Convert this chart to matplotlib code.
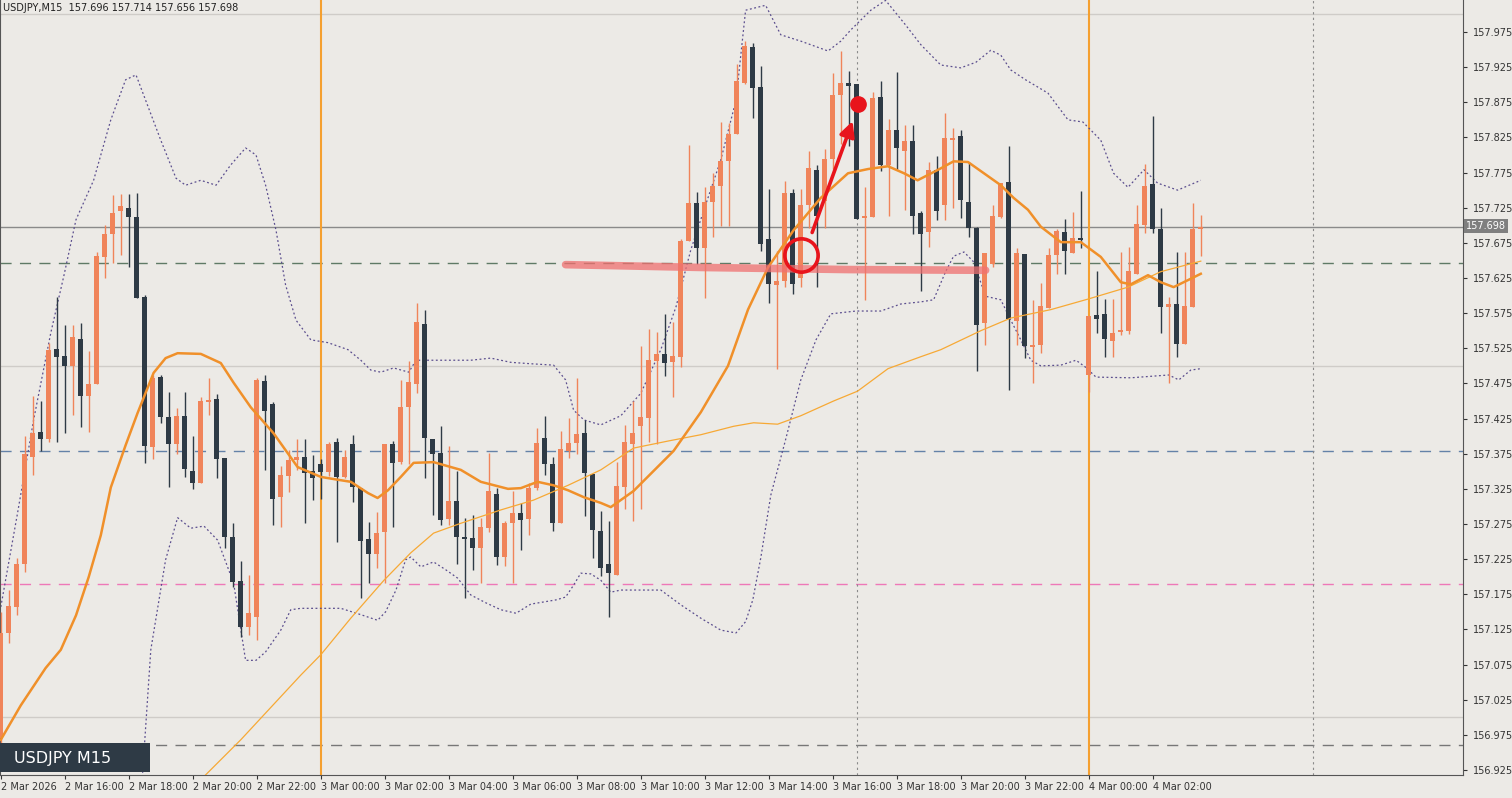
import matplotlib
matplotlib.use("Agg")
import matplotlib.pyplot as plt
from matplotlib.patches import Rectangle
import numpy as np

# ---------------- data ----------------
opens = [156.970,157.120,157.157,157.218,157.370,157.406,157.396,157.524,157.514,157.500,
 157.538,157.457,157.474,157.655,157.688,157.720,157.725,157.712,157.598,157.385,
 157.484,157.427,157.389,157.428,157.351,157.334,157.450,157.453,157.369,157.257,
 157.194,157.129,157.143,157.478,157.446,157.313,157.343,157.366,157.370,157.350,
 157.361,157.349,157.392,157.342,157.389,157.326,157.254,157.232,157.264,157.389,
 157.363,157.441,157.474,157.560,157.396,157.376,157.282,157.308,157.257,157.255,
 157.241,157.270,157.318,157.228,157.276,157.291,157.282,157.326,157.397,157.360,
 157.277,157.379,157.390,157.405,157.346,157.265,157.218,157.202,157.328,157.389,
 157.414,157.426,157.507,157.517,157.505,157.513,157.678,157.732,157.667,157.733,
 157.756,157.791,157.830,157.902,157.954,157.897,157.680,157.615,157.621,157.746,
 157.625,157.729,157.779,157.735,157.795,157.885,157.902,157.901,157.711,157.712,
 157.882,157.786,157.836,157.806,157.820,157.717,157.690,157.779,157.729,157.823,
 157.827,157.733,157.696,157.561,157.645,157.712,157.762,157.564,157.659,157.527,
 157.530,157.583,157.658,157.690,157.661,157.682,157.487,157.573,157.574,157.535,
 157.549,157.550,157.631,157.700,157.759,157.695,157.584,157.588,157.531,157.584,157.696]
highs = [157.150,157.181,157.227,157.400,157.457,157.450,157.532,157.598,157.558,157.558,
 157.561,157.521,157.662,157.700,157.743,157.745,157.745,157.746,157.601,157.487,
 157.487,157.463,157.440,157.463,157.400,157.456,157.483,157.460,157.369,157.276,
 157.222,157.202,157.483,157.487,157.449,157.358,157.380,157.396,157.396,157.373,
 157.367,157.391,157.398,157.380,157.402,157.326,157.278,157.292,157.389,157.393,
 157.480,157.507,157.589,157.579,157.396,157.414,157.386,157.350,157.284,157.288,
 157.284,157.376,157.326,157.279,157.322,157.305,157.334,157.411,157.428,157.370,
 157.408,157.426,157.483,157.423,157.346,157.294,157.279,157.363,157.416,157.450,
 157.528,157.552,157.548,157.574,157.562,157.680,157.814,157.747,157.754,157.774,
 157.847,157.845,157.929,157.962,157.959,157.927,157.752,157.664,157.763,157.752,
 157.752,157.806,157.786,157.808,157.917,157.948,157.919,157.901,157.754,157.889,
 157.905,157.851,157.918,157.843,157.843,157.721,157.790,157.799,157.860,157.838,
 157.836,157.790,157.698,157.661,157.729,157.760,157.813,157.668,157.659,157.594,
 157.618,157.668,157.695,157.709,157.719,157.749,157.571,157.635,157.595,157.595,
 157.662,157.669,157.729,157.787,157.855,157.725,157.598,157.662,157.662,157.732,157.714]
lows = [156.950,157.106,157.146,157.207,157.345,157.379,157.391,157.391,157.405,157.430,
 157.413,157.406,157.474,157.625,157.646,157.658,157.641,157.597,157.362,157.367,
 157.419,157.327,157.374,157.342,157.325,157.334,157.430,157.341,157.241,157.185,
 157.114,157.117,157.110,157.352,157.274,157.271,157.321,157.352,157.276,157.309,
 157.311,157.343,157.250,157.340,157.306,157.170,157.191,157.212,157.191,157.271,
 157.360,157.360,157.461,157.340,157.288,157.274,157.274,157.218,157.170,157.209,
 157.191,157.264,157.217,157.215,157.191,157.238,157.260,157.324,157.345,157.265,
 157.277,157.369,157.374,157.287,157.227,157.201,157.143,157.202,157.297,157.279,
 157.296,157.391,157.389,157.485,157.456,157.498,157.678,157.645,157.597,157.683,
 157.699,157.699,157.830,157.901,157.852,157.664,157.589,157.496,157.612,157.602,
 157.612,157.696,157.612,157.696,157.780,157.816,157.813,157.709,157.594,157.712,
 157.777,157.713,157.780,157.722,157.688,157.606,157.669,157.708,157.708,157.725,
 157.710,157.683,157.493,157.530,157.640,157.710,157.466,157.530,157.511,157.476,
 157.518,157.583,157.631,157.631,157.661,157.668,157.463,157.547,157.513,157.513,
 157.544,157.545,157.631,157.689,157.689,157.547,157.476,157.513,157.531,157.584,157.656]
closes = [157.120,157.158,157.218,157.374,157.404,157.396,157.522,157.512,157.500,157.541,
 157.457,157.474,157.656,157.688,157.718,157.727,157.712,157.597,157.386,157.483,
 157.427,157.389,157.428,157.353,157.334,157.450,157.452,157.367,157.256,157.192,
 157.129,157.149,157.480,157.436,157.310,157.344,157.366,157.370,157.348,157.340,
 157.349,157.389,157.342,157.370,157.328,157.251,157.232,157.262,157.389,157.362,
 157.441,157.477,157.562,157.397,157.375,157.280,157.308,157.257,157.254,157.241,
 157.271,157.322,157.228,157.276,157.291,157.281,157.326,157.390,157.360,157.277,
 157.382,157.390,157.403,157.348,157.266,157.212,157.205,157.329,157.391,157.404,
 157.427,157.508,157.517,157.504,157.514,157.678,157.732,157.667,157.733,157.756,
 157.791,157.830,157.905,157.955,157.895,157.673,157.616,157.621,157.746,157.617,
 157.729,157.781,157.713,157.795,157.885,157.902,157.898,157.709,157.713,157.881,
 157.786,157.836,157.810,157.820,157.713,157.688,157.779,157.720,157.824,157.825,
 157.736,157.696,157.558,157.661,157.713,157.760,157.567,157.661,157.528,157.530,
 157.585,157.658,157.692,157.663,157.682,157.679,157.571,157.566,157.538,157.547,
 157.550,157.635,157.702,157.756,157.695,157.584,157.588,157.531,157.585,157.695,157.698]

# indicator readings (bar index, price)
ma_fast_idx = [0,2.5,5.6,7.5,9.4,11,12.5,13.75,15.6,17.1,19.1,20.6,22.1,25,27.5,29.1,31.25,34.1,37.1,40,42.1,43.75,
 45.9,47.1,48.4,50,51.6,54.1,57.5,60,63.4,65,67.1,69.1,70.9,72.9,75,76.25,79.1,84.1,87.5,90.9,93.4,95.9,
 99.1,102.5,105.9,108.4,110.9,112.9,114.6,117.5,119.1,120.9,125,126.6,128.4,130,132.5,135,137.5,140,
 141.25,143.4,145,146.6,148.4,150]
ma_fast_val = [156.968,157.017,157.070,157.096,157.145,157.200,157.259,157.327,157.387,157.433,157.490,157.511,
 157.518,157.517,157.504,157.476,157.441,157.404,157.356,157.342,157.338,157.335,157.319,157.312,157.323,
 157.342,157.362,157.363,157.352,157.335,157.325,157.326,157.335,157.330,157.323,157.313,157.305,157.299,
 157.322,157.379,157.434,157.500,157.580,157.640,157.693,157.739,157.774,157.780,157.784,157.774,157.764,
 157.781,157.791,157.790,157.757,157.739,157.722,157.698,157.676,157.676,157.655,157.619,157.616,157.629,
 157.619,157.612,157.622,157.631]
ma_slow_idx = [25.6,30,37.5,40,43.75,47.9,51.25,54.1,57.5,62.5,66.6,70.9,75,79.1,83.4,87.5,91.6,94.1,97.1,100,
 104.1,107.1,110.9,115,117.5,122.5,126.25,131.25,135.9,140.9,145,150]
ma_slow_val = [156.918,156.968,157.060,157.089,157.141,157.195,157.234,157.262,157.276,157.295,157.309,157.330,
 157.352,157.383,157.393,157.402,157.414,157.419,157.417,157.429,157.450,157.464,157.496,157.513,157.523,
 157.550,157.568,157.580,157.595,157.612,157.634,157.649]
bb_up_idx = [0,2.1,4.1,6.25,7.9,9.4,11.6,13.75,15.6,16.9,18.1,20,21.9,23.1,25,26.9,28.75,30.6,31.9,33.1,34.4,
 35.6,36.9,38.75,40.9,43.4,45,46.25,47.5,49.1,51,51.9,53.1,56.25,58.75,61.25,63.75,66.25,69.1,70.6,71.6,
 72.9,75,77.5,80,82.5,84.4,86.25,88.1,90,91.9,93.1,95.6,97.5,100,103.4,105,106.25,108.75,110.6,113.1,115,
 117.5,120,121.9,123.75,125,126.25,128.1,130.9,133.4,135.25,137.5,139.1,140.9,142.9,144.6,147.1,150]
bb_up_val = [157.157,157.291,157.423,157.547,157.629,157.708,157.764,157.850,157.907,157.914,157.878,157.821,
 157.767,157.757,157.764,157.757,157.786,157.810,157.800,157.757,157.693,157.615,157.565,157.537,157.533,
 157.523,157.508,157.494,157.491,157.497,157.491,157.508,157.508,157.508,157.508,157.511,157.505,157.503,
 157.501,157.480,157.437,157.423,157.416,157.429,157.461,157.523,157.584,157.665,157.729,157.793,157.878,
 158.006,158.013,157.971,157.962,157.948,157.962,157.978,158.006,158.020,157.985,157.957,157.928,157.924,
 157.932,157.949,157.942,157.921,157.907,157.888,157.850,157.847,157.821,157.774,157.754,157.779,157.760,
 157.750,157.764]
bb_lo_idx = [17.5,18.75,20.6,22.1,23.75,25.4,27.1,29.1,30.6,31.9,33.1,35,36.25,37.5,42.5,45,47.1,48.1,49.4,50.6,
 51.25,52.5,54.1,55.6,57.1,58.75,60.6,62.5,64.4,66.25,69.4,70.6,71.6,72.5,73.75,75,76.25,77.5,80,82.5,85,
 87.5,90,91.9,93.1,94,95,96.25,98.1,100,101.9,103.75,106.9,110,112.5,115,116.6,118.1,119.1,120.4,121.6,
 123.1,125,126.25,127.5,128.75,130,132.5,134.4,135.6,136.9,141.25,146,147.25,148.75,150]
bb_lo_val = [156.882,157.096,157.224,157.284,157.269,157.272,157.252,157.191,157.081,157.081,157.093,157.124,
 157.153,157.155,157.155,157.146,157.138,157.150,157.181,157.224,157.228,157.214,157.221,157.210,157.198,
 157.174,157.163,157.153,157.148,157.161,157.167,157.171,157.188,157.205,157.204,157.195,157.178,157.181,
 157.181,157.181,157.160,157.141,157.124,157.120,157.136,157.167,157.227,157.316,157.395,157.480,157.537,
 157.574,157.578,157.578,157.588,157.591,157.594,157.634,157.656,157.662,157.648,157.599,157.594,157.565,
 157.537,157.508,157.500,157.501,157.508,157.498,157.484,157.483,157.487,157.480,157.494,157.496]

red_zone_idx = [70.6, 87.5, 106, 123.1]
red_zone_val = [157.644, 157.640, 157.637, 157.636]

xtick_idx = list(range(0, 152, 8))
xtick_lbl = ["2 Mar 2026", "2 Mar 16:00", "2 Mar 18:00", "2 Mar 20:00", "2 Mar 22:00", "3 Mar 00:00",
             "3 Mar 02:00", "3 Mar 04:00", "3 Mar 06:00", "3 Mar 08:00", "3 Mar 10:00", "3 Mar 12:00",
             "3 Mar 14:00", "3 Mar 16:00", "3 Mar 18:00", "3 Mar 20:00", "3 Mar 22:00", "4 Mar 00:00",
             "4 Mar 02:00"]
ytick_vals = [157.975 - 0.05 * k for k in range(22)]

# ---------------- figure ----------------
BG = "#ECEAE6"
BULL = "#F0845A"
BEAR = "#2E3A45"
W, H = 1512, 798
fig = plt.figure(figsize=(W / 100, H / 100), dpi=100, facecolor=BG)
ax = fig.add_axes([0, 23 / H, 1463 / W, 775 / H])
ax.set_facecolor(BG)
ax.set_xlim(-0.1, 1463 / 8 - 0.1)
ax.set_ylim(157.975 - 743 * 0.0014228, 157.975 + 32 * 0.0014228)

# horizontal level lines
for lv in [158.000, 157.500, 157.000]:
    ax.axhline(lv, color="#CFCCC8", lw=1, zorder=1)
ax.axhline(157.698, color="#8A8A8A", lw=1, zorder=1)
ax.axhline(157.646, color="#5F7A66", lw=1, ls=(0, (8, 6)), zorder=1)
ax.axhline(157.379, color="#6482A8", lw=1, ls=(0, (8, 6)), zorder=1)
ax.axhline(157.190, color="#EE78B8", lw=1, ls=(0, (8, 6)), zorder=1)
ax.axhline(156.961, color="#777777", lw=1, ls=(0, (8, 6)), zorder=1)
for vi in [40, 136]:
    ax.axvline(vi, color="#F5A030", lw=1.5, zorder=1)
for vi in [107, 164]:
    ax.axvline(vi, color="#8A8A8A", lw=0.8, ls=(0, (2, 3)), zorder=1)

# bands and MAs
ax.plot(bb_up_idx, bb_up_val, color="#5B4E8E", lw=0.9, ls=(0, (1.5, 2)), zorder=2)
ax.plot(bb_lo_idx, bb_lo_val, color="#5B4E8E", lw=0.9, ls=(0, (1.5, 2)), zorder=2)
ax.plot(ma_slow_idx, ma_slow_val, color="#F7A935", lw=0.9, zorder=4)
ax.plot(ma_fast_idx, ma_fast_val, color="#F0902A", lw=1.8, zorder=4)

# candles
for i in range(len(opens)):
    o, h, l, c = opens[i], highs[i], lows[i], closes[i]
    col = BULL if c >= o else BEAR
    ax.plot([i, i], [l, h], color=col, lw=1, zorder=3, solid_capstyle="butt")
    lo_b, hi_b = min(o, c), max(o, c)
    hgt = max(hi_b - lo_b, 0.0025)
    ax.add_patch(Rectangle((i - 0.32, lo_b if hi_b - lo_b > 0.0025 else lo_b - 0.001), 0.64, hgt,
                           facecolor=col, edgecolor="none", zorder=3))

# annotations
ax.plot(red_zone_idx, red_zone_val, color="#F07070", lw=5.5, alpha=0.75, solid_capstyle="round", zorder=5)
ax.plot([100], [157.658], marker="o", ms=24, mfc="none", mec="#E8141C", mew=2.6, zorder=6)
ax.annotate("", xy=(106.6, 157.852), xytext=(101.3, 157.686),
            arrowprops=dict(arrowstyle="-|>,head_length=0.9,head_width=0.45", color="#E8141C", lw=2.6), zorder=6)
ax.plot([107.1], [157.873], marker="o", ms=11, color="#E8141C", zorder=6)

# axes styling
for s in ["top"]:
    ax.spines[s].set_visible(False)
for s in ["left", "right", "bottom"]:
    ax.spines[s].set_color("#555555")
    ax.spines[s].set_linewidth(0.8)
ax.yaxis.tick_right()
ax.set_yticks(ytick_vals)
ax.set_yticklabels([f"{v:.3f}" for v in ytick_vals], fontsize=7, color="#222222")
ax.tick_params(axis="y", direction="out", length=3, pad=4, colors="#333333")
ax.set_xticks(xtick_idx)
ax.set_xticklabels(xtick_lbl, fontsize=7, color="#222222", ha="left")
ax.tick_params(axis="x", direction="out", length=3, pad=2, colors="#333333")

# current price label
fig.text(1466 / W, 1 - 226 / H, "157.698", fontsize=7, color="white", va="center", ha="left",
         bbox=dict(boxstyle="square,pad=0.25", fc="#7F7F7F", ec="none"))
# header
fig.text(3 / W, 1 - 8 / H, "USDJPY,M15  157.696 157.714 157.656 157.698", fontsize=7, color="#222222",
         va="center", ha="left")
# symbol box
fig.patches.append(Rectangle((0, 1 - 772 / H), 150 / W, 29 / H, transform=fig.transFigure,
                             facecolor="#2E3A45", edgecolor="none", zorder=10))
fig.text(14 / W, 1 - 758 / H, "USDJPY M15", fontsize=11.5, color="white", va="center", ha="left", zorder=11)

fig.savefig("out.png", dpi=100, facecolor=BG)
